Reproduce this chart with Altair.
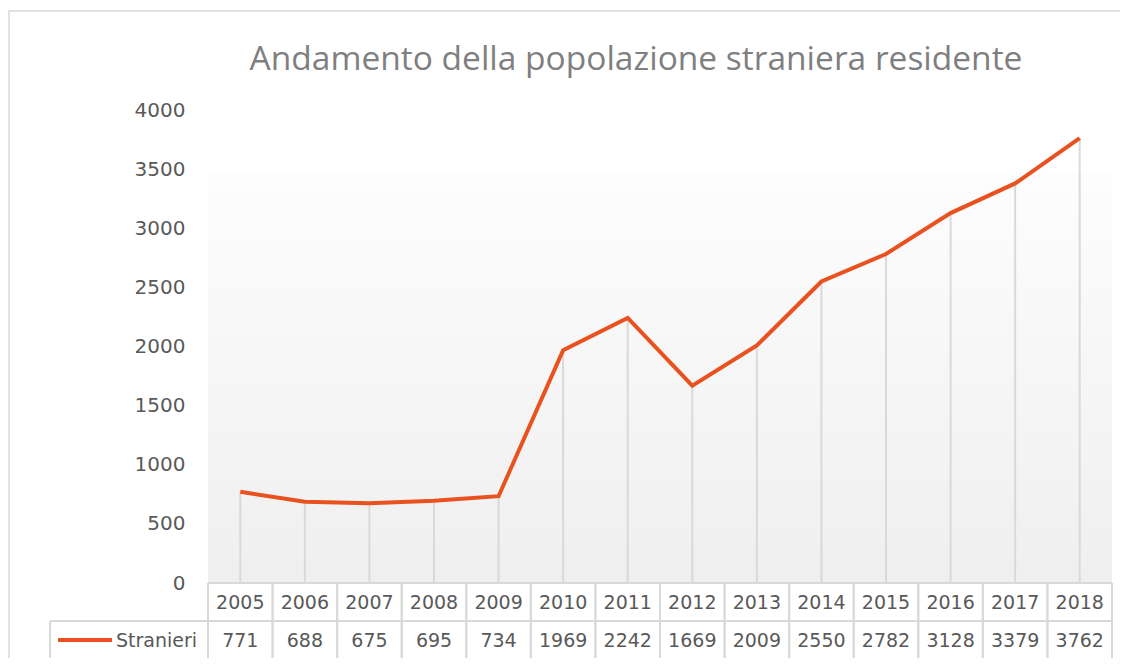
import altair as alt
import pandas as pd

# ---- data ----
years = ["2005", "2006", "2007", "2008", "2009", "2010", "2011",
         "2012", "2013", "2014", "2015", "2016", "2017", "2018"]
values = [771, 688, 675, 695, 734, 1969, 2242, 1669, 2009, 2550, 2782, 3128, 3379, 3762]
series_name = "Stranieri"
title_text = "Andamento della popolazione straniera residente"
y_ticks = [0, 500, 1000, 1500, 2000, 2500, 3000, 3500, 4000]

df = pd.DataFrame({"anno": years, "valore": values})
one = pd.DataFrame({"k": [0]})
legend_df = pd.DataFrame({"serie": [series_name]})
title_df = pd.DataFrame({"titolo": [title_text]})

# ---- style ----
W, H = 904, 473
ROW = 38
LINE_COLOR = "#E9511F"
GRID = "#d9d9d9"
TEXT = "#595959"
FONT = "DejaVu Sans"

xscale = alt.Scale(type="band", paddingInner=0, paddingOuter=0)


def xenc(bp=None):
    if bp is None:
        return alt.X("anno:N", sort=years, scale=xscale, axis=None)
    return alt.X("anno:N", sort=years, scale=xscale, axis=None, bandPosition=bp)


yenc = alt.Y(
    "valore:Q",
    scale=alt.Scale(domain=[0, 4000], nice=False),
    axis=alt.Axis(values=y_ticks, grid=False, domain=False, ticks=False,
                  format="d", labelFontSize=20, labelColor=TEXT, labelFont=FONT,
                  labelPadding=23),
    title=None,
)

base = alt.Chart(df)

bg = alt.Chart(one).mark_rect(
    color=alt.LinearGradient(
        gradient="linear",
        stops=[alt.GradientStop(color="#fdfdfd", offset=0),
               alt.GradientStop(color="#efefef", offset=1)],
        x1=0, x2=0, y1=0, y2=1,
    )
).encode(x=alt.value(0), x2=alt.value(W), y=alt.value(62), y2=alt.value(H))

border = alt.Chart(one).mark_rect(
    fillOpacity=0, stroke=GRID, strokeWidth=1.5
).encode(x=alt.value(-199), x2=alt.value(W + 40), y=alt.value(-99), y2=alt.value(H + 120))

title = alt.Chart(title_df).mark_text(
    fontSize=33.5, font="Open Sans", color="#7f7f7f", align="center", baseline="alphabetic"
).encode(x=alt.value(428), y=alt.value(-40), text="titolo:N")

drops = base.mark_rule(color=GRID, strokeWidth=2).encode(
    x=xenc(), y=yenc, y2=alt.datum(0)
)

line = base.mark_line(color=LINE_COLOR, strokeWidth=4).encode(x=xenc(), y=yenc)

vlines_l = base.mark_rule(color=GRID, strokeWidth=2).encode(
    x=xenc(0), y=alt.value(H), y2=alt.value(H + 2 * ROW)
)
vlines_r = base.mark_rule(color=GRID, strokeWidth=2).encode(
    x=xenc(1), y=alt.value(H), y2=alt.value(H + 2 * ROW)
)
h_top = alt.Chart(one).mark_rule(color=GRID, strokeWidth=2).encode(
    x=alt.value(0), x2=alt.value(W), y=alt.value(H)
)
h_mid = alt.Chart(one).mark_rule(color=GRID, strokeWidth=2).encode(
    x=alt.value(-158), x2=alt.value(W), y=alt.value(H + ROW)
)
h_bot = alt.Chart(one).mark_rule(color=GRID, strokeWidth=2).encode(
    x=alt.value(-158), x2=alt.value(W), y=alt.value(H + 2 * ROW)
)
v_leg = alt.Chart(one).mark_rule(color=GRID, strokeWidth=2).encode(
    x=alt.value(-158), y=alt.value(H + ROW), y2=alt.value(H + 2 * ROW)
)

year_txt = base.mark_text(fontSize=19, font=FONT, color=TEXT).encode(
    x=xenc(), y=alt.value(H + ROW / 2 + 1), text="anno:N"
)
val_txt = base.mark_text(fontSize=19, font=FONT, color=TEXT).encode(
    x=xenc(), y=alt.value(H + 1.5 * ROW + 1), text="valore:Q"
)

leg_line = alt.Chart(legend_df).mark_rule(color=LINE_COLOR, strokeWidth=4).encode(
    x=alt.value(-150), x2=alt.value(-96), y=alt.value(H + 1.5 * ROW)
)
leg_txt = alt.Chart(legend_df).mark_text(
    fontSize=19, font=FONT, color=TEXT, align="left"
).encode(x=alt.value(-92), y=alt.value(H + 1.5 * ROW + 1), text="serie:N")

chart = alt.layer(
    bg, border, title, drops, line, vlines_l, vlines_r, h_top, h_mid, h_bot, v_leg,
    year_txt, val_txt, leg_line, leg_txt,
).properties(
    width=W,
    height=H,
    padding={"left": 200, "top": 102, "right": 8, "bottom": 75},
    autosize=alt.AutoSizeParams(type="none"),
    background="white",
).configure_view(stroke=None)

chart.save("out.html", embed_options={"renderer": "svg", "actions": False})
